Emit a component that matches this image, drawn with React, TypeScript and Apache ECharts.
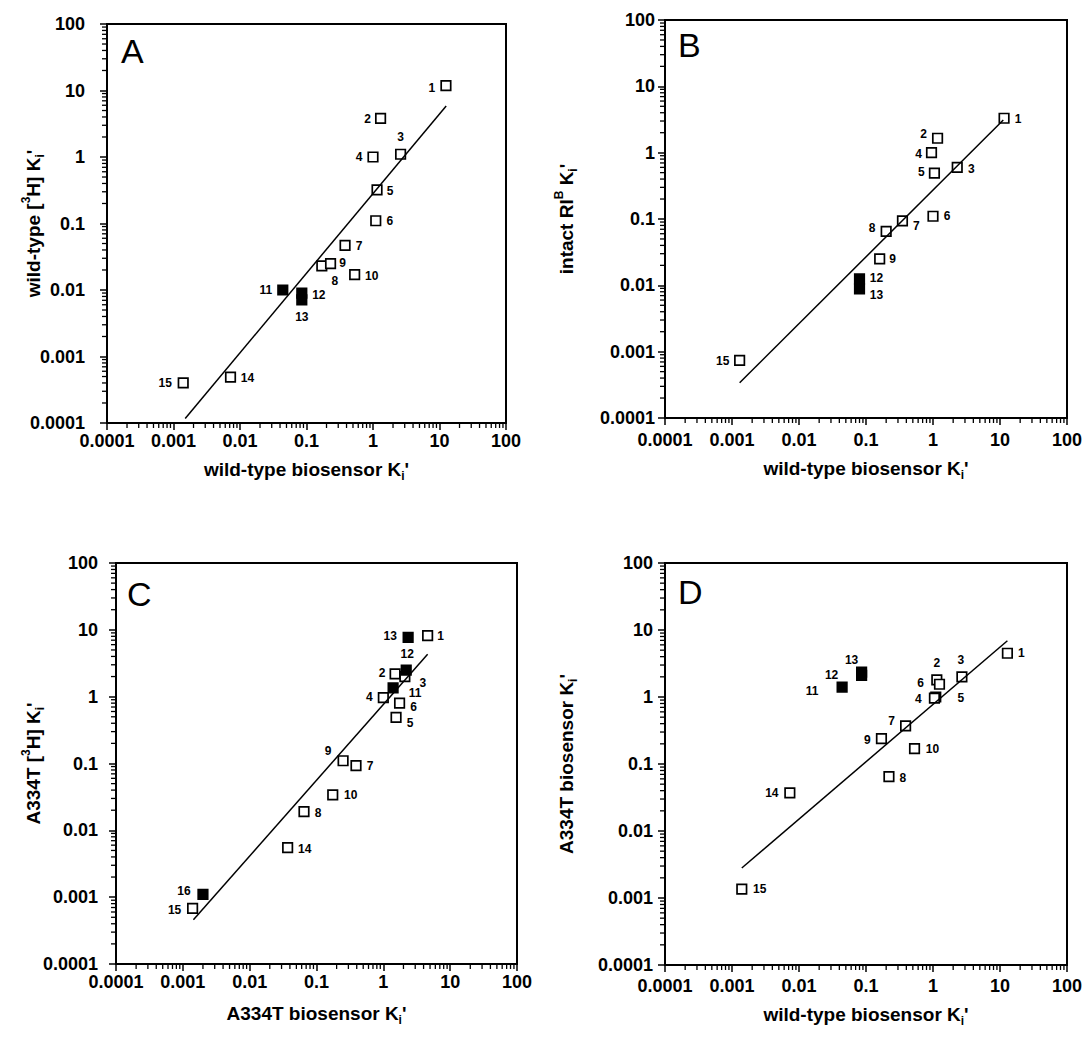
import React, { useEffect, useRef } from 'react';
import * as echarts from 'echarts';

const FONT = 'Liberation Sans';

// ---------- axis ticks ----------
const tickLabels = ['0.0001', '0.001', '0.01', '0.1', '1', '10', '100'];
const minorTickValues = [
  0.0002, 0.0003, 0.0004, 0.0005, 0.0006, 0.0007, 0.0008, 0.0009,
  0.002, 0.003, 0.004, 0.005, 0.006, 0.007, 0.008, 0.009,
  0.02, 0.03, 0.04, 0.05, 0.06, 0.07, 0.08, 0.09,
  0.2, 0.3, 0.4, 0.5, 0.6, 0.7, 0.8, 0.9,
  2, 3, 4, 5, 6, 7, 8, 9,
  20, 30, 40, 50, 60, 70, 80, 90,
];

// ---------- Panel A : wild-type biosensor Ki' vs wild-type [3H] Ki' ----------
const aIds = ['1', '2', '3', '4', '5', '6', '7', '8', '9', '10', '11', '12', '13', '14', '15'];
const aX = [12.5, 1.3, 2.6, 1.0, 1.15, 1.1, 0.38, 0.17, 0.23, 0.53, 0.044, 0.085, 0.085, 0.0072, 0.0014];
const aY = [11.8, 3.8, 1.1, 1.0, 0.32, 0.11, 0.047, 0.023, 0.025, 0.017, 0.010, 0.009, 0.0071, 0.00049, 0.0004];
const aFilled = [0, 0, 0, 0, 0, 0, 0, 0, 0, 0, 1, 1, 1, 0, 0];
const aFitX = [0.0015, 12.6];
const aFitY = [0.000117, 5.85];

// ---------- Panel B : wild-type biosensor Ki' vs intact RIB Ki' ----------
const bIds = ['1', '2', '3', '4', '5', '6', '7', '8', '9', '12', '13', '15'];
const bX = [11.5, 1.17, 2.3, 0.95, 1.05, 1.0, 0.35, 0.2, 0.16, 0.08, 0.08, 0.0013];
const bY = [3.3, 1.65, 0.6, 1.0, 0.49, 0.11, 0.094, 0.065, 0.025, 0.0125, 0.0088, 0.00074];
const bFilled = [0, 0, 0, 0, 0, 0, 0, 0, 0, 1, 1, 0];
const bFitX = [0.0013, 11.2];
const bFitY = [0.00034, 3.1];

// ---------- Panel C : A334T biosensor Ki' vs A334T [3H] Ki' ----------
const cIds = ['1', '2', '3', '4', '5', '6', '7', '8', '9', '10', '11', '12', '13', '14', '15', '16'];
const cX = [4.6, 1.5, 2.1, 1.0, 1.55, 1.75, 0.39, 0.065, 0.25, 0.175, 1.4, 2.2, 2.35, 0.037, 0.0014, 0.002];
const cY = [8.2, 2.2, 2.0, 0.97, 0.49, 0.8, 0.093, 0.019, 0.11, 0.034, 1.35, 2.5, 7.7, 0.0055, 0.00068, 0.0011];
const cFilled = [0, 0, 0, 0, 0, 0, 0, 0, 0, 0, 1, 1, 1, 0, 0, 1];
const cFitX = [0.00144, 4.6];
const cFitY = [0.00046, 4.3];

// ---------- Panel D : wild-type biosensor Ki' vs A334T biosensor Ki' ----------
const dIds = ['1', '2', '3', '5', '4', '6', '7', '8', '9', '10', '11', '12', '13', '14', '15'];
const dX = [12.9, 1.14, 2.7, 1.1, 1.05, 1.25, 0.39, 0.22, 0.17, 0.53, 0.044, 0.086, 0.086, 0.0073, 0.0014];
const dY = [4.5, 1.8, 2.0, 1.0, 0.96, 1.55, 0.37, 0.065, 0.24, 0.17, 1.4, 2.1, 2.35, 0.037, 0.00136];
const dFilled = [0, 0, 0, 0, 0, 0, 0, 0, 0, 0, 1, 1, 1, 0, 0];
const dFitX = [0.0014, 12.9];
const dFitY = [0.0028, 6.9];

// ---------- label offsets (style only, px from the square centre) ----------
const aLabelOffsets = [[-14, 2], [-13, 1], [0, -17], [-14, 0], [13, 1], [14, 0], [14, 1], [13, 15], [12, -1], [17, 1], [-17, 0], [17, 2], [0, 17], [17, 1], [-18, 0]];
const bLabelOffsets = [[14, 1], [-14, -4], [14, 2], [-13, 1], [-13, -1], [14, 0], [14, 5], [-14, -3], [13, 0], [17, -1], [17, 6], [-17, 1]];
const cLabelOffsets = [[13, 0], [-13, -1], [18, 6], [-14, -1], [14, 6], [14, 4], [14, 0], [14, 1], [-15, -10], [18, 0], [22, 5], [1, -16], [-18, -1], [17, 1], [-18, 2], [-19, -3]];
const dLabelOffsets = [[14, 0], [0, -17], [-1, -17], [25, 1], [-16, 1], [-19, -1], [-14, -5], [14, 1], [-14, 1], [18, 0], [-30, 4], [-30, 0], [-10, -12], [-18, 0], [18, 0]];

const richName = {
  t: { fontFamily: FONT, fontWeight: 'bold', fontSize: 19, lineHeight: 26, color: '#000', verticalAlign: 'middle' },
  sub: { fontFamily: FONT, fontWeight: 'bold', fontSize: 12, lineHeight: 12, color: '#000', verticalAlign: 'bottom' },
  sup: { fontFamily: FONT, fontWeight: 'bold', fontSize: 12, lineHeight: 12, color: '#000', verticalAlign: 'top' },
};

const grids = [
  { left: 107, top: 24, width: 399, height: 399 },
  { left: 665, top: 20, width: 402, height: 398 },
  { left: 116, top: 563, width: 401, height: 401 },
  { left: 665, top: 563, width: 402, height: 402 },
];

const xNames = [
  "{t|wild-type biosensor K}{sub|i}{t|'}",
  "{t|wild-type biosensor K}{sub|i}{t|'}",
  "{t|A334T biosensor K}{sub|i}{t|'}",
  "{t|wild-type biosensor K}{sub|i}{t|'}",
];
const yNames = [
  "{t|wild-type [}{sup|3}{t|H] K}{sub|i}{t|'}",
  "{t|intact RI}{sup|B}{t| K}{sub|i}{t|'}",
  "{t|A334T [}{sup|3}{t|H] K}{sub|i}{t|'}",
  "{t|A334T biosensor K}{sub|i}{t|'}",
];
const xNameGaps = [33, 37, 36, 36];
const yNameGaps = [61, 86, 70, 86];
const yLabelMargins = [22, 10, 18, 12];
const xLabelMargins = [9, 13, 9, 12];
const letters = ['A', 'B', 'C', 'D'];
const letterPos = [[121, 51], [678, 45], [127, 594], [678, 592]];
const axisMin = 0.0001;
const axisMax = 100;

const panels = [
  { ids: aIds, xs: aX, ys: aY, filled: aFilled, offs: aLabelOffsets, fx: aFitX, fy: aFitY },
  { ids: bIds, xs: bX, ys: bY, filled: bFilled, offs: bLabelOffsets, fx: bFitX, fy: bFitY },
  { ids: cIds, xs: cX, ys: cY, filled: cFilled, offs: cLabelOffsets, fx: cFitX, fy: cFitY },
  { ids: dIds, xs: dX, ys: dY, filled: dFilled, offs: dLabelOffsets, fx: dFitX, fy: dFitY },
];

function fmt(v: number) {
  const i = Math.round(Math.log10(v)) + 4;
  return tickLabels[i] ?? '';
}

function letterGraphics() {
  return letters.map((l, i) => ({
    id: 'letter-' + l,
    type: 'text',
    x: letterPos[i][0],
    y: letterPos[i][1],
    style: { text: l, fontFamily: FONT, fontSize: 34, fill: '#000', textVerticalAlign: 'middle', textAlign: 'left' },
    z: 10,
  }));
}

function buildOption() {
  const xAxis: any[] = [];
  const yAxis: any[] = [];
  const series: any[] = [];

  panels.forEach((p, i) => {
    xAxis.push({
      gridIndex: i,
      type: 'log',
      logBase: 10,
      min: axisMin,
      max: axisMax,
      splitNumber: 6,
      axisLine: { show: true, onZero: false, lineStyle: { color: '#000', width: 2 } },
      axisTick: { show: true, inside: false, length: 7, lineStyle: { color: '#000', width: 1.5 } },
      splitLine: { show: false },
      minorTick: { show: false },
      axisLabel: { color: '#000', fontFamily: FONT, fontWeight: 'bold', fontSize: 18, margin: xLabelMargins[i], formatter: fmt, showMinLabel: true, showMaxLabel: true, hideOverlap: false },
      name: xNames[i],
      nameLocation: 'middle',
      nameGap: xNameGaps[i],
      nameMoveOverlap: false,
      nameTextStyle: { rich: richName },
    });
    yAxis.push({
      gridIndex: i,
      type: 'log',
      logBase: 10,
      min: axisMin,
      max: axisMax,
      splitNumber: 6,
      axisLine: { show: true, onZero: false, lineStyle: { color: '#000', width: 2 } },
      axisTick: { show: true, inside: false, length: 7, lineStyle: { color: '#000', width: 1.5 } },
      splitLine: { show: false },
      minorTick: { show: false },
      axisLabel: { color: '#000', fontFamily: FONT, fontWeight: 'bold', fontSize: 18, margin: yLabelMargins[i], formatter: fmt, showMinLabel: true, showMaxLabel: true, hideOverlap: false },
      name: yNames[i],
      nameLocation: 'middle',
      nameRotate: 90,
      nameGap: yNameGaps[i],
      nameMoveOverlap: false,
      nameTextStyle: { rich: richName },
    });

    // data squares
    series.push({
      type: 'scatter',
      xAxisIndex: i,
      yAxisIndex: i,
      silent: true,
      clip: false,
      symbol: 'rect',
      symbolSize: 9.5,
      emphasis: { disabled: true },
      label: {
        show: true,
        position: 'inside',
        formatter: '{b}',
        color: '#000',
        fontFamily: FONT,
        fontWeight: 'bold',
        fontSize: 12,
      },
      data: p.ids.map((id, k) => ({
        name: id,
        value: [p.xs[k], p.ys[k]],
        itemStyle: { color: p.filled[k] ? '#000' : '#fff', borderColor: '#000', borderWidth: 1.7, opacity: 1 },
        label: { offset: p.offs[k] },
      })),
      z: 2,
    });

    // regression line
    series.push({
      type: 'line',
      xAxisIndex: i,
      yAxisIndex: i,
      silent: true,
      symbol: 'none',
      lineStyle: { color: '#000', width: 1.5 },
      data: p.fx.map((x, k) => [x, p.fy[k]]),
      z: 3,
    });
  });

  return {
    animation: false,
    backgroundColor: '#fff',
    grid: grids.map((g) => ({ ...g, show: true, borderColor: '#000', borderWidth: 2, backgroundColor: 'transparent', containLabel: false })),
    xAxis,
    yAxis,
    series,
    graphic: letterGraphics(),
  };
}

// minor log ticks, positioned through each grid's own scales
function minorTickGraphics(chart: any) {
  const out: any[] = [];
  grids.forEach((g, i) => {
    const bottom = g.top + g.height;
    const left = g.left;
    minorTickValues.forEach((v, k) => {
      let px: any = null;
      let py: any = null;
      try {
        px = chart.convertToPixel({ gridIndex: i }, [v, 1]);
        py = chart.convertToPixel({ gridIndex: i }, [1, v]);
      } catch (e) {
        px = null;
        py = null;
      }
      if (Array.isArray(px) && isFinite(px[0])) {
        out.push({
          id: 'mx-' + i + '-' + k,
          type: 'line',
          silent: true,
          z: 10,
          shape: { x1: px[0], y1: bottom + 1, x2: px[0], y2: bottom + 5 },
          style: { stroke: '#000', lineWidth: 1.3 },
        });
      }
      if (Array.isArray(py) && isFinite(py[1])) {
        out.push({
          id: 'my-' + i + '-' + k,
          type: 'line',
          silent: true,
          z: 10,
          shape: { x1: left - 1, y1: py[1], x2: left - 5, y2: py[1] },
          style: { stroke: '#000', lineWidth: 1.3 },
        });
      }
    });
  });
  return out;
}

export default function App() {
  const ref = useRef<HTMLDivElement>(null);
  useEffect(() => {
    if (!ref.current) return;
    const chart = echarts.init(ref.current, null, { renderer: 'svg' });
    chart.setOption(buildOption() as any);
    try {
      const ticks = minorTickGraphics(chart);
      if (ticks.length) chart.setOption({ graphic: [...letterGraphics(), ...ticks] } as any);
    } catch (e) {
      // keep the chart as drawn if the tick overlay cannot be built
    }
    return () => chart.dispose();
  }, []);
  return <div ref={ref} style={{ position: 'absolute', left: 0, top: 0, width: 1088, height: 1046, background: '#fff' }} />;
}
